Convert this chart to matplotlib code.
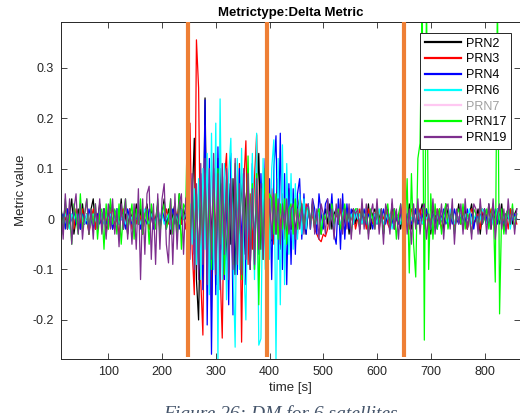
import numpy as np
import matplotlib
matplotlib.use("Agg")
import matplotlib.pyplot as plt

# ---------------- data ----------------
# sample grid: segments start times, 4 s sampling inside each segment
SEG_START = [12, 248, 404, 472, 564]
STEP = 4

prn2 = [
    # 12-244
    [.02,-.01,.03,-.02,.01,.04,-.03,.00,.02,-.02,
     .03,-.01,.01,-.03,.02,.04,-.02,.00,.03,-.01,
     .02,-.03,.01,.03,-.02,.00,.02,-.01,.04,-.02,
     .01,-.03,.02,.00,-.02,.03,-.01,.02,-.03,.01,
     .03,-.02,.02,-.01,.00,.03,-.02,.01,.04,-.01,
     .02,-.03,.01,.03,-.02,.05,-.01,.02,.00],
    # 248-400
    [.01,-.05,.03,.16,-.12,-.20,.05,-.08,.24,-.10,
     .06,-.04,.09,-.13,.04,.10,-.06,.03,-.09,.07,
     -.05,.08,-.11,.05,-.03,.09,-.07,.04,.08,-.10,
     .06,-.04,.03,.13,-.06,.07,-.03,.05,-.05],
    # 404-468
    [-.04,.05,-.03,.04,-.06,.03,.02,-.04,.05,-.02,.03,-.03,.02,.04,-.02,.01,-.03],
    # 472-560
    [.02,-.01,.03,-.02,.01,.02,-.03,.00,.02,-.01,.03,-.02,.01,.02,-.01,.03,-.02,.00,.02,-.03,.01,.02,-.01],
    # 564-860
    [.01,-.02,.02,.00,-.01,.03,-.02,.01,.02,-.01,
     .00,.02,-.03,.01,.02,-.01,.03,-.02,.01,.00,
     -.02,.02,.01,-.01,.03,-.02,.00,.02,-.01,.01,
     .03,-.02,.01,.00,-.03,.02,.01,-.01,.02,.00,
     -.02,.03,.01,-.01,.02,-.02,.00,.03,-.01,.01,
     .02,-.02,.01,.03,-.01,.00,.02,-.03,.01,.02,
     -.01,.03,-.02,.01,.00,.02,-.01,.03,-.02,.01,
     .00,.02,-.01,.01,.02],
]

prn3 = [
    [.01,-.02,.00,.02,-.01,.01,-.02,.02,.00,-.01,
     .02,-.01,.01,-.03,.00,.02,-.02,.01,.00,-.01,
     .02,.00,-.02,.01,.02,-.01,.00,-.03,.01,.02,
     -.01,.00,.02,-.02,.01,-.01,.02,.00,-.03,.01,
     .02,-.02,.00,.01,-.01,.02,-.02,.01,.00,.02,
     -.01,.01,-.02,.02,.00,.03,-.01,.01,-.02],
    [.02,.19,-.06,-.15,.355,.26,-.12,-.23,.185,-.08,
     .07,-.18,.10,-.05,.12,-.10,-.236,.08,.13,-.07,
     .06,-.12,.09,-.05,.11,-.244,.07,.155,-.09,.05,
     -.06,.08,.167,-.04,.06,-.08,.04,.03,-.06],
    [.06,-.05,.04,.08,-.03,.05,-.04,.03,.06,-.02,.04,.03,-.03,.05,.02,-.02,.03],
    [.02,-.01,.01,-.02,-.03,-.04,-.045,-.03,-.035,-.02,.01,.02,-.01,.01,.00,.02,-.01,.01,.02,-.01,.00,.01,-.02],
    [.00,.02,-.01,.01,-.02,.02,.00,-.01,.01,.02,
     -.02,.01,.00,.02,-.01,-.02,.01,.02,.00,-.01,
     .02,-.01,.01,.00,-.02,.02,.01,-.01,.00,.02,
     -.01,.01,.02,-.02,.00,.01,-.01,.02,.00,-.02,
     .01,.02,-.01,.00,.02,-.02,.01,.00,-.01,.02,
     .00,-.02,.01,.02,-.01,.00,.01,-.02,.02,.00,
     .01,-.01,.02,.00,-.02,.01,.02,-.01,.00,.01,
     -.02,.02,.00,.01,-.01],
]

prn4 = [
    [.00,.01,-.02,.02,-.01,.00,.02,-.01,.01,-.02,
     .01,.00,-.01,.02,.00,-.02,.01,.01,-.01,.00,
     .02,-.01,.00,.01,-.02,.01,.02,-.01,.00,.01,
     -.02,.02,.00,-.01,.01,.00,.02,-.02,.01,.00,
     -.01,.02,.01,-.02,.00,.01,-.01,.02,.00,-.02,
     .01,.00,.02,-.01,.01,-.02,.02,.00,.01],
    [.01,-.04,.03,-.07,.05,-.10,.09,-.14,.236,-.21,
     .12,-.268,.10,-.15,.143,-.09,.07,-.12,.06,-.17,
     .13,-.19,.08,-.11,.10,-.06,.09,-.13,.07,-.08,
     .11,-.10,.06,-.07,.09,-.05,.12,-.09,.08],
    [-.12,.10,.165,-.08,.17,-.10,.09,-.13,.07,-.09,.06,-.07,.05,.08,-.04,.05,-.03],
    [.03,-.02,.04,.02,-.03,.05,.01,-.02,.03,.04,-.01,.05,-.03,-.05,.04,-.06,.05,-.04,.03,-.02,.02,-.01,.01],
    [.01,-.01,.00,.02,-.01,.01,.00,-.02,.01,.01,
     -.01,.00,.02,-.01,.01,.00,-.01,.02,.00,-.01,
     .01,.00,-.02,.01,.01,-.01,.00,.02,-.01,.00,
     .01,-.01,.02,.00,-.01,.01,.00,-.02,.01,.00,
     .02,-.01,.00,.01,-.01,.02,.00,-.01,.01,.00,
     -.01,.02,.00,.01,-.02,.01,.00,.01,-.01,.02,
     .00,-.01,.01,.00,.02,-.01,.01,.00,-.01,.01,
     .02,-.01,.00,.01,.00],
]

prn6 = [
    [.00,-.01,.01,.00,-.02,.01,.00,.01,-.01,.02,
     .00,-.01,.01,-.02,.00,.01,.00,-.01,.02,.00,
     -.01,.01,.00,.01,-.01,.00,.02,-.01,.00,.01,
     -.01,.00,.01,.00,-.02,.01,.01,-.01,.00,.02,
     .00,-.01,.01,.00,-.01,.02,.00,.01,-.01,.00,
     .01,-.02,.00,.01,.00,-.01,.02,.00,.01],
    [.00,.03,-.05,.06,-.09,.08,-.12,.10,-.06,.13,
     -.15,.17,-.10,.19,-.28,.238,-.12,.11,-.16,.09,
     .16,-.08,-.254,.12,-.10,.14,-.09,-.20,.10,-.07,
     .13,-.12,.17,-.25,-.237,.12,-.10,.14,-.08],
    [.10,.157,-.28,.12,-.17,.147,-.13,.11,-.07,.09,-.06,.07,-.04,.05,-.03,.04,-.02],
    [.03,-.02,.02,.00,-.01,.02,-.02,.01,.00,.02,-.01,.01,-.02,.02,.00,-.01,.01,.02,-.01,.00,.01,-.01,.02],
    [.00,.01,-.01,.01,.00,-.02,.01,.00,.01,-.01,
     .02,.00,-.01,.01,.00,.01,-.02,.00,.01,.00,
     -.01,.02,.00,-.01,.01,.00,.01,-.01,.02,.00,
     -.01,.01,.00,.01,-.02,.00,.01,.01,-.01,.00,
     .01,.00,-.01,.02,.00,-.01,.01,.00,.01,-.02,
     .01,.00,.02,-.01,.00,.01,-.01,.00,.02,.01,
     -.01,.00,.01,-.01,.00,.02,.00,-.01,.01,.00,
     .01,-.02,.01,.00,.01],
]

prn17 = [
    [.02,-.03,.04,-.02,.01,-.05,.03,.00,-.03,.05,
     -.02,.01,.04,-.03,.02,-.01,.03,-.04,.01,.02,
     -.06,.03,-.02,.04,-.01,.02,-.03,.03,-.05,.01,
     .04,-.02,.00,.03,-.04,.02,-.01,.04,-.03,.01,
     .02,-.05,.03,.00,-.02,.04,-.03,.01,.03,-.02,
     .00,.04,-.03,.02,-.04,.05,-.06,.03,.02],
    [.23,-.06,.08,-.04,.05,-.09,.07,-.05,.09,-.07,
     .04,-.10,.06,-.08,.10,-.05,.07,-.11,.08,-.06,
     .05,-.09,.11,-.07,.06,-.12,.08,-.05,.125,-.08,
     .07,-.10,.09,-.17,.06,-.08,.10,-.115,.05],
    [.04,-.03,.05,-.04,.03,-.02,.04,-.05,.02,.03,-.03,.04,-.02,.01,.03,-.02,.02],
    [.02,-.01,.03,-.02,.01,.02,-.03,.01,.00,.02,-.02,.03,-.01,.01,.02,-.02,.00,.03,-.01,.02,-.03,.01,.02],
    [.02,-.02,.03,-.01,.01,-.03,.02,.00,-.02,.03,
     -.01,.02,-.03,.01,.03,-.02,.00,.02,-.04,.01,
     .03,-.02,-.03,.08,-.107,.09,-.05,-.115,.12,.15,
     .45,-.24,.45,-.10,.05,-.04,.03,-.02,.02,-.03,
     .01,.03,-.02,.00,.02,-.03,.01,.02,-.01,.03,
     -.02,.01,.00,-.03,.02,.01,-.02,.03,-.01,.00,
     .02,-.02,.01,.03,-.125,.45,-.188,.02,-.03,.01,
     .02,-.01,.03,-.02,.01],
]

prn19 = [
    [.03,-.04,.05,-.02,.04,-.05,.02,.05,-.03,.03,
     -.04,.01,.04,-.03,.02,-.04,.03,-.02,.04,-.03,
     .02,-.04,.03,-.02,.04,-.03,.02,-.055,.03,-.02,
     .04,-.04,.02,-.05,.03,-.06,.06,-.12,.04,-.07,
     .05,.065,-.08,.03,-.09,.05,-.06,.04,.07,-.05,
     -.087,.04,-.09,.05,-.06,.03,.05,-.07,.04],
    [.05,-.08,.09,-.10,.07,-.12,.11,-.09,.12,-.13,
     .10,-.08,.13,-.11,.09,-.14,.11,-.07,.10,-.12,
     .08,-.10,.12,-.09,.07,-.11,.10,-.08,.09,-.10,
     .06,-.09,.08,-.06,.07,-.08,.05,-.06,.04],
    [-.04,.05,-.03,.04,-.05,.03,-.02,.04,-.03,.02,.03,-.04,.02,-.02,.03,-.03,.02],
    [.03,-.02,.04,-.03,.02,-.04,.03,.01,-.03,.04,-.02,.02,-.04,.03,-.01,.04,-.03,.02,-.02,.03,-.04,.02,.01],
    [.02,-.03,.04,-.02,.03,-.04,.01,.03,-.02,.04,
     -.03,.02,-.05,.03,.01,-.03,.04,-.02,.02,-.04,
     .03,-.01,.04,-.03,.02,-.05,.03,-.02,.04,-.03,
     .02,.03,-.04,.01,-.02,.04,-.03,.02,-.01,.03,
     -.04,.02,.03,-.02,.04,-.05,.02,-.01,.03,-.03,
     .04,-.02,.01,-.04,.03,.02,-.03,.04,-.01,.02,
     -.03,.03,-.02,.04,-.04,.01,.03,-.02,.02,-.03,
     .04,-.01,.02,-.03,.02],
]

labels = ["PRN2", "PRN3", "PRN4", "PRN6", "PRN7", "PRN17", "PRN19"]
colors = ["#000000", "#FF0000", "#0000FF", "#00FFFF", "#FFC8F2", "#00FF00", "#7E2F8E"]
series = [prn2, prn3, prn4, prn6, None, prn17, prn19]

event_times = [248, 396, 650]
event_span = (-0.274, 0.45)

title = "Metrictype:Delta Metric"
xlabel = "time [s]"
ylabel = "Metric value"
caption = "Figure 26: DM for 6 satellites"
xticks = [100, 200, 300, 400, 500, 600, 700, 800]
yticks = [-0.2, -0.1, 0, 0.1, 0.2, 0.3]


def to_xy(segs):
    xs, ys = [], []
    for start, seg in zip(SEG_START, segs):
        xs.extend(start + STEP * np.arange(len(seg)))
        ys.extend(seg)
    return np.array(xs), np.array(ys)


# ---------------- figure ----------------
plt.rcParams["font.family"] = ["Liberation Sans", "DejaVu Sans"]
W, H = 520, 413
fig = plt.figure(figsize=(W / 100, H / 100), dpi=100)
ax = fig.add_axes([61 / W, 1 - 359 / H, (520 - 61) / W, (359 - 22) / H])

axc = "#262626"
lines = []
for lab, col, s in zip(labels, colors, series):
    if s is None:
        ln, = ax.plot([], [], color=col, lw=1.6, label=lab)
    else:
        x, y = to_xy(s)
        ln, = ax.plot(x, y, color=col, lw=0.9, label=lab)
    lines.append(ln)

for et in event_times:
    ax.plot([et, et], event_span, color="#EE7F35", lw=3.0, zorder=5, solid_capstyle="butt")

ax.set_xlim(12, 866)
ax.set_ylim(-0.2774, 0.3904)
ax.set_xticks(xticks)
ax.set_yticks(yticks)
ax.set_xticklabels([str(v) for v in xticks])
ax.set_yticklabels(["-0.2", "-0.1", "0", "0.1", "0.2", "0.3"])
ax.tick_params(direction="in", length=4, width=0.6, top=True, right=True,
               labelsize=9, colors=axc, pad=5)
for sp in ax.spines.values():
    sp.set_color(axc)
    sp.set_linewidth(0.7)

ax.set_title(title, fontsize=9.5, fontweight="bold", color="black", pad=4)
ax.set_xlabel(xlabel, fontsize=9.5, color=axc, labelpad=3)
ax.set_ylabel(ylabel, fontsize=9.5, color=axc, labelpad=4)

leg = ax.legend(handles=lines, loc="upper right", bbox_to_anchor=(0.9797, 0.9674),
                borderaxespad=0, fontsize=9, frameon=True, fancybox=False,
                framealpha=1, edgecolor=axc, handlelength=2.9, handletextpad=0.35,
                labelspacing=0.3, borderpad=0.38)
leg.get_frame().set_linewidth(0.7)
for lh in leg.get_lines():
    lh.set_linewidth(1.6)
for txt, lab in zip(leg.get_texts(), labels):
    txt.set_color("#A0A0A0" if lab == "PRN7" else "black")

fig.text(163 / W, (H - 419) / H, caption, fontsize=14, style="italic",
         family=["Liberation Serif", "DejaVu Serif"], color="#44546A",
         ha="left", va="baseline")

fig.savefig("out.png", dpi=100)
